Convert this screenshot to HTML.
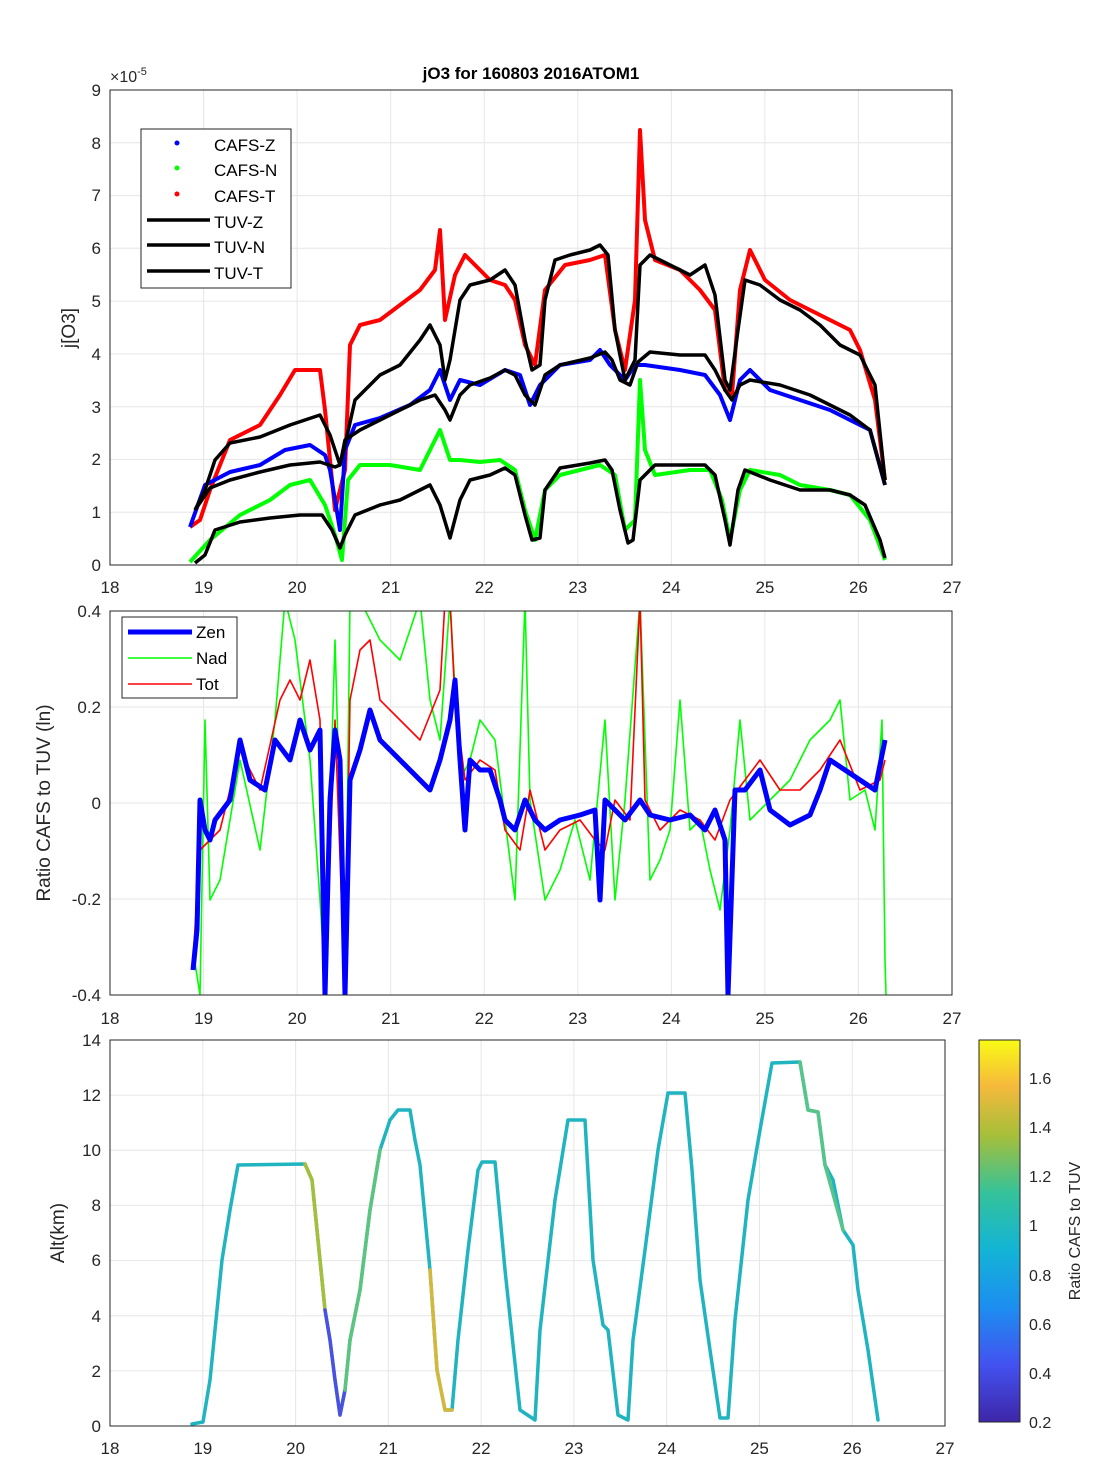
<!DOCTYPE html>
<html><head><meta charset="utf-8"><style>body{margin:0;background:#fff}svg{display:block;font-family:"Liberation Sans",sans-serif}</style></head><body>
<svg width="1094" height="1484" viewBox="0 0 1094 1484">
<defs><linearGradient id="cb" x1="0" y1="1" x2="0" y2="0">
<stop offset="0" stop-color="#3e26a8"/><stop offset="0.15" stop-color="#4352f0"/><stop offset="0.3" stop-color="#1d8ef0"/><stop offset="0.45" stop-color="#13b4d6"/><stop offset="0.6" stop-color="#35c29a"/><stop offset="0.75" stop-color="#a6bf3a"/><stop offset="0.88" stop-color="#f6b93c"/><stop offset="1" stop-color="#f9fb15"/></linearGradient></defs>
<g stroke="#e6e6e6" stroke-width="1">
<path d="M203.6 90V565M297.1 90V565M390.7 90V565M484.2 90V565M577.8 90V565M671.3 90V565M764.9 90V565M858.4 90V565M110 512.2H952M110 459.4H952M110 406.7H952M110 353.9H952M110 301.1H952M110 248.3H952M110 195.6H952M110 142.8H952"/>
<path d="M203.6 611V995M297.1 611V995M390.7 611V995M484.2 611V995M577.8 611V995M671.3 611V995M764.9 611V995M858.4 611V995M110 707H952M110 803H952M110 899H952"/>
<path d="M202.8 1040V1426M295.6 1040V1426M388.3 1040V1426M481.1 1040V1426M573.9 1040V1426M666.7 1040V1426M759.4 1040V1426M852.2 1040V1426M110 1370.9H945M110 1315.7H945M110 1260.6H945M110 1205.4H945M110 1150.3H945M110 1095.1H945"/>
</g>
<g fill="none" stroke-linejoin="round">
<polyline stroke="#ff0000" stroke-width="4" points="190,527 200,520 210,490 230,440 260,425 280,395 295,370 320,370 325,410 335,510 345,470 350,345 360,325 380,320 400,305 420,290 435,270 440,230 445,320 455,275 465,255 490,280 505,285 515,300 525,345 535,365 545,290 565,265 590,260 605,255 615,330 625,370 635,300 640,130 645,220 655,260 680,270 700,290 715,310 725,390 732,395 740,290 750,250 765,280 790,300 810,310 830,320 850,330 860,350 875,400 885,480"/>
<polyline stroke="#0000ff" stroke-width="4" points="190,527 205,485 230,472 260,465 285,450 310,445 325,455 330,470 340,530 345,450 355,425 380,418 410,405 430,390 440,370 450,400 460,380 480,385 505,370 520,375 530,405 540,385 560,365 590,360 600,350 610,365 625,380 635,365 645,365 680,370 705,375 720,395 730,420 740,380 750,370 770,390 800,400 830,410 850,420 870,430 885,485"/>
<polyline stroke="#00ff00" stroke-width="4" points="190,562 210,540 240,515 270,500 290,485 310,480 325,505 335,535 342,560 348,480 360,465 390,465 420,470 440,430 450,460 460,460 480,462 500,460 515,470 525,510 535,540 545,490 560,475 600,465 615,475 625,530 635,520 640,380 645,450 655,475 690,470 710,470 722,500 730,540 740,490 750,470 780,475 800,485 830,490 850,495 870,520 885,560"/>
<g stroke="#000" stroke-width="3.5">
<polyline points="195,510 205,490 215,460 230,443 260,437 290,425 320,415 330,435 340,465 345,445 355,400 370,385 380,375 400,365 420,340 430,325 440,345 445,380 450,360 460,300 470,285 490,280 505,270 515,285 525,340 532,370 540,365 545,300 555,260 570,255 590,250 600,245 608,255 615,330 625,380 635,360 640,265 650,255 670,265 690,275 705,265 715,295 725,380 730,390 738,330 745,280 760,285 780,300 800,310 820,325 840,345 860,355 875,385 885,480"/>
<polyline points="195,510 210,488 230,480 260,472 290,465 320,462 335,467 340,465 345,440 360,430 380,420 400,410 420,400 435,395 445,410 450,420 460,395 470,385 490,378 505,370 515,375 525,395 535,405 545,375 560,365 590,358 605,352 612,360 620,380 630,385 638,362 650,352 680,355 705,355 715,370 725,390 732,400 740,385 750,380 780,385 810,395 830,405 850,415 870,430 885,485"/>
<polyline points="195,563 205,555 215,530 240,522 270,518 300,515 322,515 332,530 340,548 345,535 355,515 380,505 400,500 420,490 430,485 440,505 450,538 460,500 470,480 490,475 505,468 515,475 525,515 532,540 540,538 545,490 560,468 590,463 605,460 612,470 620,510 628,543 633,540 640,480 655,465 680,465 705,465 715,475 725,520 730,545 738,490 745,470 770,480 800,490 830,490 850,495 865,505 880,540 885,558"/>
</g>
</g>
<rect x="110" y="90" width="842" height="475" fill="none" stroke="#262626"/>
<g font-size="17" fill="#262626" text-anchor="end">
<text x="101" y="571">0</text><text x="101" y="518">1</text><text x="101" y="465">2</text><text x="101" y="413">3</text><text x="101" y="360">4</text><text x="101" y="307">5</text><text x="101" y="254">6</text><text x="101" y="201">7</text><text x="101" y="149">8</text><text x="101" y="96">9</text>
</g>
<text x="110" y="82" font-size="16" fill="#262626">×10<tspan font-size="11" dy="-7">-5</tspan></text>
<g font-size="17" fill="#262626" text-anchor="middle">
<text x="110" y="593">18</text><text x="203.6" y="593">19</text><text x="297.1" y="593">20</text><text x="390.7" y="593">21</text><text x="484.2" y="593">22</text><text x="577.8" y="593">23</text><text x="671.3" y="593">24</text><text x="764.9" y="593">25</text><text x="858.4" y="593">26</text><text x="952" y="593">27</text>
<text x="110" y="1024">18</text><text x="203.6" y="1024">19</text><text x="297.1" y="1024">20</text><text x="390.7" y="1024">21</text><text x="484.2" y="1024">22</text><text x="577.8" y="1024">23</text><text x="671.3" y="1024">24</text><text x="764.9" y="1024">25</text><text x="858.4" y="1024">26</text><text x="952" y="1024">27</text>
<text x="110" y="1454">18</text><text x="202.8" y="1454">19</text><text x="295.6" y="1454">20</text><text x="388.3" y="1454">21</text><text x="481.1" y="1454">22</text><text x="573.9" y="1454">23</text><text x="666.7" y="1454">24</text><text x="759.4" y="1454">25</text><text x="852.2" y="1454">26</text><text x="945" y="1454">27</text>
</g>
<text x="531" y="79" font-size="17" font-weight="bold" text-anchor="middle" fill="#000">jO3 for 160803 2016ATOM1</text>
<text transform="translate(75,328) rotate(-90)" font-size="19" text-anchor="middle" fill="#262626">j[O3]</text>
<rect x="141" y="129" width="150" height="159" fill="#fff" stroke="#262626"/>
<g font-size="17" fill="#000">
<circle cx="177" cy="143" r="2.5" fill="#00f"/><text x="214" y="151">CAFS-Z</text>
<circle cx="177" cy="168" r="2.5" fill="#0f0"/><text x="214" y="176">CAFS-N</text>
<circle cx="177" cy="194" r="2.5" fill="#f00"/><text x="214" y="202">CAFS-T</text>
<path d="M147 220H210M147 245H210M147 271H210" stroke="#000" stroke-width="3.5"/>
<text x="214" y="228">TUV-Z</text><text x="214" y="253">TUV-N</text><text x="214" y="279">TUV-T</text>
</g>
<!-- panel 2 -->
<svg x="110" y="611" width="842" height="384" viewBox="110 611 842 384" overflow="hidden">
<g fill="none" stroke-linejoin="round">
<polyline stroke="#00ff00" stroke-width="1.6" points="193,950 200,995 205,720 210,900 220,880 240,760 260,850 275,720 285,600 295,640 310,760 320,900 325,980 335,640 345,995 350,600 360,600 380,640 400,660 420,600 430,700 440,740 450,600 460,780 470,760 480,720 495,740 505,820 515,900 525,600 530,800 545,900 560,870 575,820 590,880 605,720 615,900 625,800 640,600 650,880 660,860 670,830 680,700 690,830 700,820 710,870 720,910 730,830 740,720 750,820 770,800 790,780 800,760 810,740 830,720 840,700 850,800 865,790 875,830 882,720 885,960 886,995"/>
<polyline stroke="#ff0000" stroke-width="1.6" points="193,960 200,850 210,840 220,830 240,750 260,790 280,700 290,680 300,700 310,660 320,720 325,995 335,720 345,995 350,700 360,650 370,640 380,700 400,720 420,740 440,690 445,600 450,600 455,700 465,780 480,760 495,770 505,830 520,850 530,790 545,850 560,830 580,820 595,840 605,850 615,800 630,820 640,600 645,800 660,830 680,810 700,820 715,840 730,800 745,780 760,760 780,790 800,790 820,770 840,740 860,790 880,780 885,760"/>
<polyline stroke="#0000ff" stroke-width="5" points="193,970 197,930 200,800 205,830 210,840 215,820 230,800 240,740 250,780 265,790 275,740 290,760 300,720 310,750 320,730 325,995 330,800 335,730 340,760 345,995 350,780 360,750 370,710 380,740 400,760 420,780 430,790 440,760 450,720 455,680 460,760 465,830 470,760 480,770 490,770 500,800 505,820 515,830 525,800 535,820 545,830 560,820 580,815 595,810 600,900 605,800 615,810 625,820 640,800 650,815 670,820 690,815 705,830 715,810 725,840 728,995 735,790 745,790 760,770 770,810 790,825 810,815 820,790 830,760 845,770 860,780 875,790 885,740"/>
</g></svg>
<rect x="110" y="611" width="842" height="384" fill="none" stroke="#262626"/>
<g font-size="17" fill="#262626" text-anchor="end">
<text x="101" y="617">0.4</text><text x="101" y="713">0.2</text><text x="101" y="809">0</text><text x="101" y="905">-0.2</text><text x="101" y="1001">-0.4</text>
</g>
<text transform="translate(50,803) rotate(-90)" font-size="19" text-anchor="middle" fill="#262626">Ratio CAFS to TUV (ln)</text>
<rect x="122" y="617" width="115" height="81" fill="#fff" stroke="#262626"/>
<g font-size="17" fill="#000">
<path d="M128 632H192" stroke="#00f" stroke-width="5"/><text x="196" y="638">Zen</text>
<path d="M128 658H192" stroke="#0f0" stroke-width="1.6"/><text x="196" y="664">Nad</text>
<path d="M128 684H192" stroke="#f00" stroke-width="1.6"/><text x="196" y="690">Tot</text>
</g>
<!-- panel 3 -->
<g fill="none" stroke-linejoin="round" stroke-linecap="round" stroke-width="3.5">
<polyline stroke="#1fb4bf" points="192,1424 203,1422 210,1380 215,1330 222,1260 230,1210 238,1165 305,1164 312,1180 320,1260 325,1310 330,1340 335,1380 340,1415 345,1390 350,1340 360,1290 370,1210 380,1150 390,1120 398,1110 410,1110 415,1140 420,1165 430,1270 437,1370 445,1410 452,1410 458,1340 468,1250 478,1170 482,1162 495,1162 505,1270 520,1410 535,1420 540,1330 555,1200 568,1120 585,1120 593,1260 603,1325 608,1330 618,1415 628,1420 633,1340 645,1250 658,1150 668,1093 685,1093 692,1170 700,1280 710,1350 720,1418 728,1418 735,1320 748,1200 760,1130 772,1063 800,1062 808,1110 818,1112 825,1165 833,1180 843,1230 853,1245 858,1290 868,1350 878,1420"/>
<polyline stroke="#a6bf3a" points="305,1164 312,1180 320,1260 325,1310"/>
<polyline stroke="#4a50e0" points="325,1310 330,1340 335,1380 340,1415 345,1390"/>
<polyline stroke="#5cc47e" points="345,1390 350,1340 360,1290 370,1210 380,1150"/>
<polyline stroke="#d5b83a" points="430,1270 437,1370 445,1410 452,1410"/>
<polyline stroke="#58c48a" points="800,1062 808,1110 818,1112 825,1165 843,1230"/>
</g>
<rect x="110" y="1040" width="835" height="386" fill="none" stroke="#262626"/>
<g font-size="17" fill="#262626" text-anchor="end">
<text x="101" y="1432">0</text><text x="101" y="1377">2</text><text x="101" y="1322">4</text><text x="101" y="1266">6</text><text x="101" y="1211">8</text><text x="101" y="1156">10</text><text x="101" y="1101">12</text><text x="101" y="1046">14</text>
</g>
<text transform="translate(64,1233) rotate(-90)" font-size="19" text-anchor="middle" fill="#262626">Alt(km)</text>
<rect x="979" y="1040" width="41" height="382" fill="url(#cb)" stroke="#262626"/>
<g font-size="16" fill="#262626">
<text x="1029" y="1428">0.2</text><text x="1029" y="1379">0.4</text><text x="1029" y="1330">0.6</text><text x="1029" y="1281">0.8</text><text x="1029" y="1231">1</text><text x="1029" y="1182">1.2</text><text x="1029" y="1133">1.4</text><text x="1029" y="1084">1.6</text>
</g>
<text transform="translate(1080,1231) rotate(-90)" font-size="16" text-anchor="middle" fill="#262626">Ratio CAFS to TUV</text>
</svg>
</body></html>
